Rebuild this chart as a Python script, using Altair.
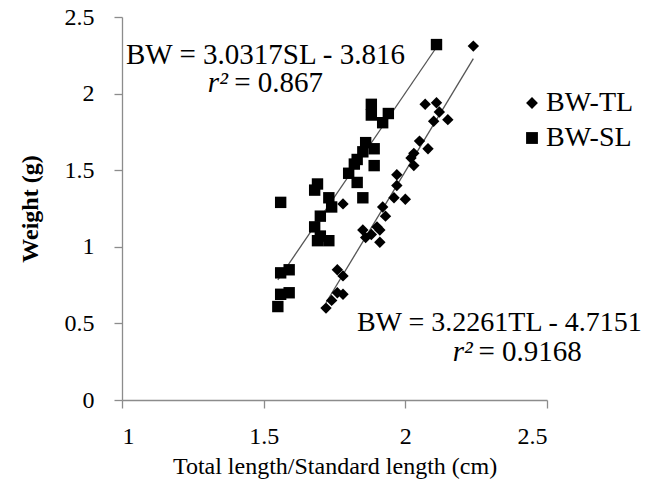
import altair as alt
import pandas as pd

# ---- data ----
tl_x = [2.24, 2.07, 2.11, 2.12, 2.10, 2.15, 2.05, 2.08, 2.03, 2.02, 2.03, 1.97, 1.97,
        1.96, 2.00, 1.92, 1.93, 1.90, 1.91, 1.85, 1.86, 1.91, 1.78, 1.76, 1.78, 1.76,
        1.78, 1.74, 1.72, 1.88]
tl_y = [2.31, 1.93, 1.94, 1.88, 1.82, 1.83, 1.69, 1.64, 1.61, 1.58, 1.53, 1.47, 1.40,
        1.32, 1.31, 1.26, 1.20, 1.13, 1.11, 1.11, 1.06, 1.03, 1.28, 0.85, 0.81, 0.70,
        0.69, 0.65, 0.60, 1.08]
sl_x = [2.11, 1.88, 1.88, 1.94, 1.92, 1.86, 1.89, 1.85, 1.83, 1.82, 1.89, 1.80, 1.83,
        1.85, 1.69, 1.68, 1.73, 1.56, 1.74, 1.70, 1.68, 1.70, 1.73, 1.69, 1.56, 1.59,
        1.56, 1.59, 1.55]
sl_y = [2.32, 1.93, 1.86, 1.87, 1.81, 1.68, 1.64, 1.62, 1.57, 1.54, 1.53, 1.48, 1.42,
        1.32, 1.41, 1.37, 1.32, 1.29, 1.26, 1.20, 1.13, 1.07, 1.04, 1.04, 0.83, 0.85,
        0.69, 0.70, 0.61]
series_names = ["BW-TL", "BW-SL"]
series_shapes = ["diamond", "square"]
x_ticks = [1, 1.5, 2, 2.5]
y_ticks = [0, 0.5, 1, 1.5, 2, 2.5]

ann_text = ["BW = 3.0317SL - 3.816", "= 0.867", "BW = 3.2261TL - 4.7151", "= 0.9168"]
ann_x = [1.014, 1.396, 1.829, 2.258]
ann_y = [2.252, 2.069, 0.503, 0.313]
ann_size = [29, 29, 28, 29]
r_text = ["r\u00b2", "r\u00b2"]
r_x = [1.303, 2.1675]
r_y = [2.069, 0.313]

FONT = "'Liberation Serif', 'Times New Roman', serif"

df = pd.DataFrame({
    "x": tl_x + sl_x,
    "y": tl_y + sl_y,
    "series": [series_names[0]] * len(tl_x) + [series_names[1]] * len(sl_x),
})
ann = pd.DataFrame({"x": ann_x, "y": ann_y, "t": ann_text, "s": ann_size})
rdf = pd.DataFrame({"x": r_x, "y": r_y, "t": r_text})

xs = alt.Scale(domain=[1, 2.5], nice=False, zero=False)
ys = alt.Scale(domain=[0, 2.5], nice=False)

base = alt.Chart(df)

lines = base.transform_regression(
    "x", "y", groupby=["series"]
).mark_line(color="#555555", strokeWidth=1.3).encode(
    x=alt.X("x:Q", scale=xs),
    y=alt.Y("y:Q", scale=ys),
    detail="series:N",
)

points = base.mark_point(filled=True, size=130, opacity=1, color="black").encode(
    x=alt.X("x:Q", scale=xs,
            axis=alt.Axis(values=x_ticks, format="~g", title="Total length/Standard length (cm)",
                          titleFontWeight="normal", labelPadding=16, titlePadding=6)),
    y=alt.Y("y:Q", scale=ys,
            axis=alt.Axis(values=y_ticks, format="~g", title="Weight (g)",
                          titleFontWeight="bold", labelPadding=20, titlePadding=22)),
    shape=alt.Shape("series:N",
                    scale=alt.Scale(domain=series_names, range=series_shapes),
                    legend=alt.Legend(title=None, orient="none", legendX=396, legendY=72)),
)

texts = alt.Chart(ann).mark_text(align="left", baseline="middle", font=FONT,
                                 color="black").encode(
    x=alt.X("x:Q", scale=xs), y=alt.Y("y:Q", scale=ys), text="t:N",
    size=alt.Size("s:Q", scale=None, legend=None))
rtexts = alt.Chart(rdf).mark_text(align="left", baseline="middle", font=FONT,
                                  fontSize=29, fontStyle="italic", color="black").encode(
    x=alt.X("x:Q", scale=xs), y=alt.Y("y:Q", scale=ys), text="t:N")

chart = alt.layer(lines, points, texts, rtexts).properties(
    width=425, height=383,
    autosize=alt.AutoSizeParams(type="none"),
    padding={"left": 114, "top": 9, "right": 98, "bottom": 80},
).configure_view(stroke=None).configure_axis(
    grid=False,
    domainColor="#8c8c8c", tickColor="#8c8c8c", domainWidth=1.3, tickWidth=1.3,
    tickSize=8, labelFont=FONT, labelFontSize=24, labelColor="black",
    titleFont=FONT, titleFontSize=24, titleColor="black",
).configure_legend(
    labelFont=FONT, labelFontSize=28, labelColor="black", symbolSize=140,
    symbolFillColor="black", symbolStrokeWidth=0, rowPadding=7, labelOffset=0,
    padding=0,
).configure_text(font=FONT)

chart.save("out.html", embed_options={"renderer": "svg", "actions": False})
